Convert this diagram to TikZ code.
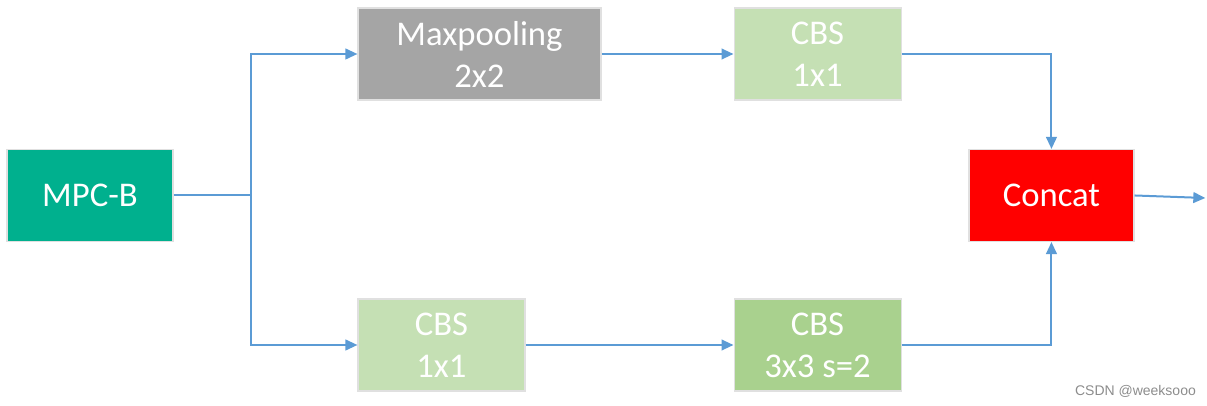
\documentclass[tikz,border=0pt]{standalone}
\usepackage{fontspec}
\setmainfont{Carlito}
\newfontfamily\markfont{Liberation Sans}
\usepackage{tikz}
\usetikzlibrary{positioning}
\usetikzlibrary{arrows.meta}

\definecolor{mpcgreen}{HTML}{00B08E}
\definecolor{poolgray}{HTML}{A5A5A5}
\definecolor{cbslight}{HTML}{C5E0B4}
\definecolor{cbsdark}{HTML}{A9D18E}
\definecolor{flowblue}{HTML}{5B9BD5}

\begin{document}
\begin{tikzpicture}[->,>={Triangle[length=9pt,width=8pt]},line width=1.5pt,
                    draw=flowblue,
                    block/.style={rectangle,draw=black!12,line width=0.8pt,text=white,
                      inner sep=0pt,minimum height=69pt,align=center,
                      font=\fontsize{26}{31.5}\selectfont}]
  \useasboundingbox (0,0) rectangle (905.25pt,-304.5pt);

  \node[block,fill=mpcgreen,minimum width=124.5pt] (mpc) at (67.5pt,-146.6pt) {MPC-B};
  \node[block,fill=poolgray,minimum width=182.25pt] (pool) at (359.6pt,-40.5pt) {Maxpooling\\2x2};
  \node[block,fill=cbslight,minimum width=125.25pt] (cbsa) [right=99pt of pool] {CBS\\1x1};
  \node[block,fill=cbslight,minimum width=125.25pt] (cbsb) at (331.1pt,-258.75pt) {CBS\\1x1};
  \node[block,fill=cbsdark,minimum width=125.25pt] (cbsc) [right=156pt of cbsb] {CBS\\3x3 s=2};
  \node[block,fill=red,minimum width=123.75pt] (concat) at (788.6pt,-146.6pt) {Concat};

  \coordinate (split) at ([xshift=57.75pt]mpc.east);
  \coordinate (out) at (904pt,-148.5pt);

  \draw[-] (mpc) -- (split);
  \draw (split) |- (pool);
  \draw (split) |- (cbsb);
  \draw (pool) -- (cbsa);
  \draw (cbsb) -- (cbsc);
  \draw (cbsa) -| (concat);
  \draw (cbsc) -| (concat);
  \draw (concat.east) -- (out);

  \node[text=black!45,font=\markfont\fontsize{10.5}{12}\selectfont] (mark) at (851.6pt,-293.8pt) {CSDN @weeksooo};
\end{tikzpicture}
\end{document}
